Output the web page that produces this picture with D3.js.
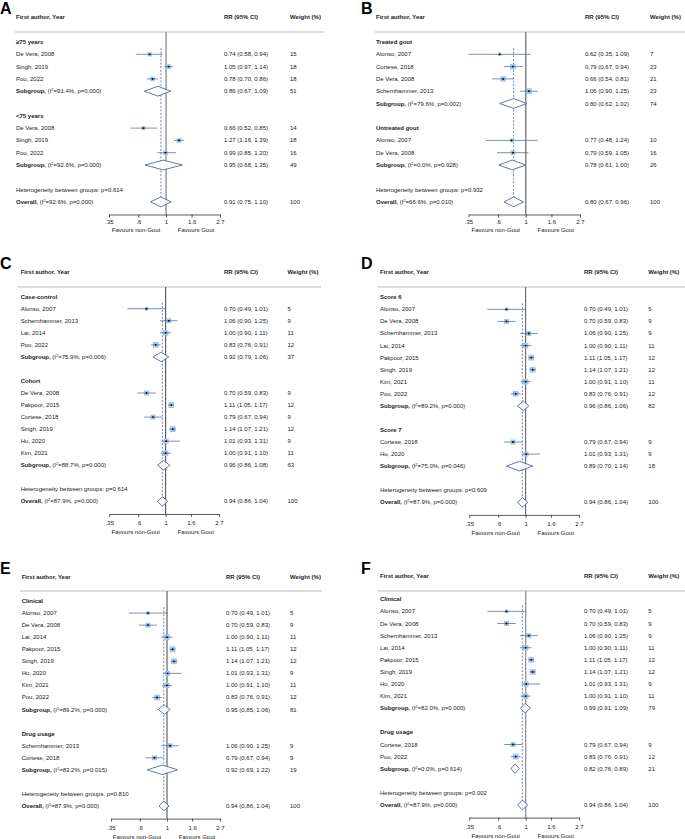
<!DOCTYPE html>
<html><head><meta charset="utf-8">
<script src="https://cdn.jsdelivr.net/npm/d3@7"></script>
<style>
body{margin:0;background:#fff}
svg{display:block}
text{font-family:"Liberation Sans Narrow","Arial Narrow","Liberation Sans",sans-serif;fill:#222}
</style>
</head><body><svg id="c" width="685" height="839"></svg>
<script>
// ---------- shared axis ----------
const axisDomain = [0.35, 2.7];
const tickValues = [0.35, 0.6, 1, 1.6, 2.7];
const tickLabels = [".35", ".6", "1", "1.6", "2.7"];
const headerLabels = ["First author, Year", "RR (95% CI)", "Weight (%)"];
const favourLabels = ["Favours non-Gout", "Favours Gout"];

// ---------- Panel A ----------
const groupsA = ["≥75 years", "<75 years"];
// [group, study, RR, lower, upper, weight]
const studiesA = [
  [0, "De Vera, 2008", 0.74, 0.58, 0.94, 15],
  [0, "Singh, 2019", 1.05, 0.97, 1.14, 18],
  [0, "Pou, 2022", 0.78, 0.70, 0.86, 18],
  [1, "De Vera, 2008", 0.66, 0.52, 0.85, 14],
  [1, "Singh, 2019", 1.27, 1.16, 1.39, 18],
  [1, "Pou, 2022", 0.99, 0.85, 1.20, 16]
];
// [I2, p, RR, lower, upper, weight]
const subgroupsA = [["91.4%", "0.000", 0.86, 0.67, 1.09, 51], ["92.6%", "0.000", 0.95, 0.68, 1.35, 49]];
const overallA = ["92.6%", "0.000", 0.91, 0.75, 1.10, 100];
const hetA = "0.614";

// ---------- Panel B ----------
const groupsB = ["Treated gout", "Untreated gout"];
const studiesB = [
  [0, "Alonso, 2007", 0.62, 0.35, 1.09, 7],
  [0, "Cortese, 2018", 0.79, 0.67, 0.94, 23],
  [0, "De Vera, 2008", 0.66, 0.54, 0.81, 21],
  [0, "Schernhammer, 2013", 1.06, 0.90, 1.25, 23],
  [1, "Alonso, 2007", 0.77, 0.48, 1.24, 10],
  [1, "De Vera, 2008", 0.79, 0.59, 1.05, 16]
];
const subgroupsB = [["79.6%", "0.002", 0.80, 0.62, 1.02, 74], ["0.0%", "0.928", 0.78, 0.61, 1.00, 26]];
const overallB = ["66.6%", "0.010", 0.80, 0.67, 0.96, 100];
const hetB = "0.932";

// ---------- Panel C ----------
const groupsC = ["Case-control", "Cohort"];
const studiesC = [
  [0, "Alonso, 2007", 0.70, 0.49, 1.01, 5],
  [0, "Schernhammer, 2013", 1.06, 0.90, 1.25, 9],
  [0, "Lai, 2014", 1.00, 0.90, 1.11, 11],
  [0, "Pou, 2022", 0.83, 0.76, 0.91, 12],
  [1, "De Vera, 2008", 0.70, 0.59, 0.83, 9],
  [1, "Pakpoor, 2015", 1.11, 1.05, 1.17, 12],
  [1, "Cortese, 2018", 0.79, 0.67, 0.94, 9],
  [1, "Singh, 2019", 1.14, 1.07, 1.21, 12],
  [1, "Hu, 2020", 1.01, 0.93, 1.31, 9],
  [1, "Kim, 2021", 1.00, 0.91, 1.10, 11]
];
const subgroupsC = [["75.9%", "0.006", 0.92, 0.79, 1.06, 37], ["88.7%", "0.000", 0.96, 0.86, 1.08, 63]];
const overallC = ["87.9%", "0.000", 0.94, 0.86, 1.04, 100];
const hetC = "0.614";

// ---------- Panel D ----------
const groupsD = ["Score 6", "Score 7"];
const studiesD = [
  [0, "Alonso, 2007", 0.70, 0.49, 1.01, 5],
  [0, "De Vera, 2008", 0.70, 0.59, 0.83, 9],
  [0, "Schernhammer, 2013", 1.06, 0.90, 1.25, 9],
  [0, "Lai, 2014", 1.00, 0.90, 1.11, 11],
  [0, "Pakpoor, 2015", 1.11, 1.05, 1.17, 12],
  [0, "Singh, 2019", 1.14, 1.07, 1.21, 12],
  [0, "Kim, 2021", 1.00, 0.91, 1.10, 11],
  [0, "Pou, 2022", 0.83, 0.76, 0.91, 12],
  [1, "Cortese, 2018", 0.79, 0.67, 0.94, 9],
  [1, "Hu, 2020", 1.01, 0.93, 1.31, 9]
];
const subgroupsD = [["89.2%", "0.000", 0.96, 0.86, 1.06, 82], ["75.0%", "0.046", 0.89, 0.70, 1.14, 18]];
const overallD = ["87.9%", "0.000", 0.94, 0.86, 1.04, 100];
const hetD = "0.609";

// ---------- Panel E ----------
const groupsE = ["Clinical", "Drug usage"];
const studiesE = [
  [0, "Alonso, 2007", 0.70, 0.49, 1.01, 5],
  [0, "De Vera, 2008", 0.70, 0.59, 0.83, 9],
  [0, "Lai, 2014", 1.00, 0.90, 1.11, 11],
  [0, "Pakpoor, 2015", 1.11, 1.05, 1.17, 12],
  [0, "Singh, 2019", 1.14, 1.07, 1.21, 12],
  [0, "Hu, 2020", 1.01, 0.93, 1.31, 9],
  [0, "Kim, 2021", 1.00, 0.91, 1.10, 11],
  [0, "Pou, 2022", 0.83, 0.76, 0.91, 12],
  [1, "Schernhammer, 2013", 1.06, 0.90, 1.25, 9],
  [1, "Cortese, 2018", 0.79, 0.67, 0.94, 9]
];
const subgroupsE = [["89.2%", "0.000", 0.95, 0.85, 1.06, 81], ["83.2%", "0.015", 0.92, 0.69, 1.22, 19]];
const overallE = ["87.9%", "0.000", 0.94, 0.86, 1.04, 100];
const hetE = "0.810";

// ---------- Panel F ----------
const groupsF = ["Clinical", "Drug usage"];
const studiesF = [
  [0, "Alonso, 2007", 0.70, 0.49, 1.01, 5],
  [0, "De Vera, 2008", 0.70, 0.59, 0.83, 9],
  [0, "Schernhammer, 2013", 1.06, 0.90, 1.25, 9],
  [0, "Lai, 2014", 1.00, 0.90, 1.11, 11],
  [0, "Pakpoor, 2015", 1.11, 1.05, 1.17, 12],
  [0, "Singh, 2019", 1.14, 1.07, 1.21, 12],
  [0, "Hu, 2020", 1.01, 0.93, 1.31, 9],
  [0, "Kim, 2021", 1.00, 0.91, 1.10, 11],
  [1, "Cortese, 2018", 0.79, 0.67, 0.94, 9],
  [1, "Pou, 2022", 0.83, 0.76, 0.91, 12]
];
const subgroupsF = [["82.0%", "0.000", 0.99, 0.91, 1.09, 79], ["0.0%", "0.614", 0.82, 0.76, 0.89, 21]];
const overallF = ["87.9%", "0.000", 0.94, 0.86, 1.04, 100];
const hetF = "0.002";

// ---------- layout (positions only) ----------
const layouts = {
  A: {lx: 0, ly: 13.5, tx: 16, rrx: 224, wtx: 290, ax: [109, 220], hl: [15, 324], hy: 17, liney: 32, row0: 42, step: 12.3, k: 1.1, tickPad: 2.3, favDy: 15, nullC: "#9a9a9a", nullW: 1.5},
  B: {lx: 361, ly: 13.5, tx: 376, rrx: 585, wtx: 650, ax: [468.5, 580], hl: [375, 685], hy: 17, liney: 32, row0: 42, step: 12.3, k: 1.2, tickPad: 2.3, favDy: 15, nullC: "#666", nullW: 1.2},
  C: {lx: 0, ly: 269, tx: 20.7, rrx: 224, wtx: 287.5, ax: [109.3, 219], hl: [18, 321], hy: 272, liney: 287, row0: 296.7, step: 12.04, k: 1.65, tickPad: 3.5, favDy: 18, nullC: "#444", nullW: 1},
  D: {lx: 361, ly: 269, tx: 380, rrx: 584, wtx: 648.3, ax: [469.3, 579], hl: [378, 685], hy: 272, liney: 287, row0: 297.3, step: 12.06, k: 1.65, tickPad: 3.8, favDy: 18, nullC: "#555", nullW: 1},
  E: {lx: 0, ly: 573.5, tx: 21.7, rrx: 226, wtx: 290, ax: [111, 220], hl: [20, 322], hy: 577, liney: 591, row0: 601, step: 12.06, k: 1.65, tickPad: 3.8, favDy: 18, nullC: "#444", nullW: 1},
  F: {lx: 361, ly: 573.5, tx: 380, rrx: 584, wtx: 648.3, ax: [469.3, 579], hl: [378, 685], hy: 576, liney: 591, row0: 599.3, step: 12.1, k: 1.65, tickPad: 3.8, favDy: 18, nullC: "#999", nullW: 1.4}
};

const svg = d3.select("#c");
const f2 = d3.format(".2f");
const FS = 6;
const ciText = (rr, lo, hi) => `${f2(rr)} (${f2(lo)}, ${f2(hi)})`;

function richLabel(sel, word, i2, p) {
  sel.append("tspan").attr("font-weight", "bold").text(word + ",");
  sel.append("tspan").text(" (I");
  sel.append("tspan").attr("font-size", 4).attr("dy", -2).text("2");
  sel.append("tspan").attr("dy", 2).text(`=${i2}, p=${p})`);
}

function drawPanel(letter, groups, studies, subgroups, overall, het) {
  const L = layouts[letter];
  const g = svg.append("g");
  const x = d3.scaleLog().domain(axisDomain).range(L.ax);

  const rows = [];
  groups.forEach((gn, gi) => {
    rows.push({type: "group", label: gn});
    studies.filter(s => s[0] === gi).forEach(s =>
      rows.push({type: "study", label: s[1], rr: s[2], lo: s[3], hi: s[4], w: s[5]}));
    const sg = subgroups[gi];
    rows.push({type: "sub", word: "Subgroup", i2: sg[0], p: sg[1], rr: sg[2], lo: sg[3], hi: sg[4], w: sg[5]});
    rows.push({type: "blank"});
  });
  rows.push({type: "het", label: `Heterogeneity between groups: p=${het}`});
  rows.push({type: "overall", word: "Overall", i2: overall[0], p: overall[1], rr: overall[2], lo: overall[3], hi: overall[4], w: overall[5]});
  const yOf = i => L.row0 + i * L.step;
  const lastY = yOf(rows.length - 1);
  const axisY = lastY + 12.6;

  // panel letter
  g.append("text").attr("x", L.lx).attr("y", L.ly)
    .style("font-family", "'Liberation Sans',Arial,sans-serif")
    .attr("font-size", 16).attr("font-weight", "bold").style("fill", "#000").text(letter);

  // headers
  [L.tx, L.rrx, L.wtx].forEach((hx, i) =>
    g.append("text").attr("x", hx).attr("y", L.hy + 2).attr("font-size", FS).attr("font-weight", "bold").text(headerLabels[i]));
  g.append("line").attr("x1", L.hl[0]).attr("x2", L.hl[1]).attr("y1", L.liney).attr("y2", L.liney)
    .attr("stroke", "#d2d2d2").attr("stroke-width", 1.3);

  // null line
  g.append("line").attr("x1", x(1)).attr("x2", x(1)).attr("y1", L.liney).attr("y2", axisY)
    .attr("stroke", L.nullC).attr("stroke-width", L.nullW);
  // overall dashed line
  g.append("line").attr("x1", x(overall[2])).attr("x2", x(overall[2]))
    .attr("y1", yOf(0) + L.step * 0.5).attr("y2", lastY + L.step * 0.4)
    .attr("stroke", "#4f63b0").attr("stroke-width", 0.8).attr("stroke-dasharray", "2,1.6");

  rows.forEach((r, i) => {
    const y = yOf(i);
    if (r.type === "group") {
      g.append("text").attr("x", L.tx).attr("y", y + 2).attr("font-size", FS).attr("font-weight", "bold").text(r.label);
    } else if (r.type === "het") {
      g.append("text").attr("x", L.tx).attr("y", y + 2).attr("font-size", FS).text(r.label);
    } else if (r.type === "study") {
      g.append("text").attr("x", L.tx).attr("y", y + 2).attr("font-size", FS).text(r.label);
      const s = L.k * Math.sqrt(r.w);
      g.append("rect").attr("x", x(r.rr) - s / 2).attr("y", y - s / 2).attr("width", s).attr("height", s)
        .attr("fill", "#a2c5e8");
      g.append("line").attr("x1", x(r.lo)).attr("x2", x(r.hi)).attr("y1", y).attr("y2", y)
        .attr("stroke", "#5267b0").attr("stroke-width", 0.75);
      g.append("circle").attr("cx", x(r.rr)).attr("cy", y).attr("r", 0.9).attr("fill", "#000");
    } else if (r.type === "sub" || r.type === "overall") {
      const t = g.append("text").attr("x", L.tx).attr("y", y + 2).attr("font-size", FS);
      richLabel(t, r.word, r.i2, r.p);
      const h = L.step * 0.8;
      const pts = [[x(r.lo), y], [x(r.rr), y - h / 2], [x(r.hi), y], [x(r.rr), y + h / 2]];
      g.append("polygon").attr("points", pts.map(p => p.join(",")).join(" "))
        .attr("fill", "#fff").attr("fill-opacity", 0.85).attr("stroke", "#3e50a0").attr("stroke-width", 0.8);
    }
    if (r.rr !== undefined) {
      g.append("text").attr("x", L.rrx).attr("y", y + 2).attr("font-size", FS).text(ciText(r.rr, r.lo, r.hi));
      g.append("text").attr("x", L.wtx).attr("y", y + 2).attr("font-size", FS).text(r.w);
    }
  });

  // axis
  const axis = g.append("g").attr("transform", `translate(0,${axisY})`)
    .call(d3.axisBottom(x).tickValues(tickValues).tickFormat((d, i) => tickLabels[i])
      .tickSize(3).tickSizeOuter(0).tickPadding(L.tickPad));
  axis.select(".domain").attr("stroke", "#333").attr("stroke-width", 0.8);
  axis.selectAll(".tick line").attr("stroke", "#333").attr("stroke-width", 0.8);
  axis.selectAll(".tick text").attr("font-size", FS).style("fill", "#222")
    .style("font-family", "'Liberation Sans Narrow','Liberation Sans',sans-serif");

  // favours labels
  [x(1) - 30, x(1) + 30].forEach((fx, i) =>
    g.append("text").attr("x", fx).attr("y", axisY + L.favDy + 2).attr("text-anchor", "middle")
      .attr("font-size", FS).text(favourLabels[i]));
}

drawPanel("A", groupsA, studiesA, subgroupsA, overallA, hetA);
drawPanel("B", groupsB, studiesB, subgroupsB, overallB, hetB);
drawPanel("C", groupsC, studiesC, subgroupsC, overallC, hetC);
drawPanel("D", groupsD, studiesD, subgroupsD, overallD, hetD);
drawPanel("E", groupsE, studiesE, subgroupsE, overallE, hetE);
drawPanel("F", groupsF, studiesF, subgroupsF, overallF, hetF);
</script>
</body></html>
